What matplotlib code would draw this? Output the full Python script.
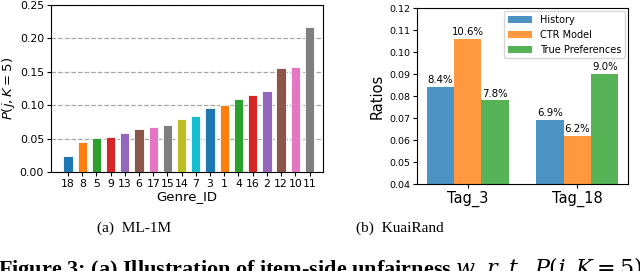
import matplotlib.pyplot as plt
import numpy as np

plt.rcParams['mathtext.fontset'] = 'dejavusans'

# left panel: ML-1M genre exposure
genre_ids = ['18', '8', '5', '9', '13', '6', '17', '15', '14', '7', '3', '1', '4', '16', '2', '12', '10', '11']
genre_p = [0.024, 0.045, 0.051, 0.053, 0.059, 0.065, 0.068, 0.071, 0.080, 0.084,
           0.096, 0.101, 0.110, 0.116, 0.121, 0.156, 0.157, 0.217]

# right panel: KuaiRand tag ratios
tags = ['Tag_3', 'Tag_18']
history = [0.084, 0.069]
ctr_model = [0.106, 0.062]
true_pref = [0.078, 0.090]
series_names = ['History', 'CTR Model', 'True Preferences']

W, H = 640, 271
fig = plt.figure(figsize=(6.4, 2.71), dpi=100)

def px_axes(x0, y0, x1, y1):
    return fig.add_axes([x0 / W, 1 - y1 / H, (x1 - x0) / W, (y1 - y0) / H])

# (a) ML-1M
ax1 = px_axes(51, 5, 323, 172)
colors = [plt.cm.tab10(i % 10) for i in range(len(genre_ids))]
x = np.arange(len(genre_ids))
ax1.bar(x, genre_p, width=0.65, color=colors, edgecolor='white', linewidth=0.6, zorder=3)
ax1.set_xticks(x)
ax1.set_xticklabels(genre_ids, fontsize=7.8)
ax1.set_xlim(-1.2, 17.95)
ax1.set_ylim(0, 0.25)
ax1.set_yticks([0, 0.05, 0.10, 0.15, 0.20, 0.25])
ax1.set_yticklabels(['0.00', '0.05', '0.10', '0.15', '0.20', '0.25'], fontsize=7.8)
ax1.tick_params(axis='both', length=3, pad=2)
ax1.yaxis.grid(True, linestyle='--', color='grey', alpha=0.7, linewidth=0.9)
ax1.set_axisbelow(True)
ax1.set_xlabel('Genre_ID', fontsize=9.5, labelpad=1)
ax1.set_ylabel('$P(j, K=5)$', fontsize=9.5, labelpad=2)

# (b) KuaiRand
ax2 = px_axes(417, 8, 628, 184)
xt = np.arange(len(tags))
w = 0.25
vals = [history, ctr_model, true_pref]
for i, (name, v) in enumerate(zip(series_names, vals)):
    bars = ax2.bar(xt + (i - 1) * w, v, width=w, color=plt.cm.tab10(i), alpha=0.8,
                   label=name)
    for b, val in zip(bars, v):
        ax2.text(b.get_x() + b.get_width() / 2, val + 0.0008, '{:.1f}%'.format(val * 100),
                 ha='center', va='bottom', fontsize=7.3)
ax2.set_ylim(0.04, 0.12)
ax2.set_yticks(np.arange(0.04, 0.121, 0.01))
ax2.set_yticklabels(['{:.2f}'.format(t) for t in np.arange(0.04, 0.121, 0.01)], fontsize=6.8)
ax2.set_xticks(xt)
ax2.set_xticklabels(tags, fontsize=10.5)
ax2.tick_params(axis='both', length=3, pad=2)
ax2.set_ylabel('Ratios', fontsize=10.5, labelpad=3)
ax2.legend(loc='upper right', fontsize=7, borderaxespad=0.3, handlelength=2.5)

# captions
fig.text(134 / W, 1 - 228 / H, '(a)  ML-1M', ha='center', va='center',
         fontsize=11, family='Liberation Serif')
fig.text(400 / W, 1 - 228 / H, '(b)  KuaiRand', ha='center', va='center',
         fontsize=11, family='Liberation Serif')
fig.text(-2 / W, 1 - 269 / H,
         'Figure 3: (a) Illustration of item-side unfairness ' + r'$\mathit{w.r.t.}$ $P(j, K=5)$',
         ha='left', va='center', fontsize=16, fontweight='bold', family='Liberation Serif',
         math_fontfamily='dejavuserif')

fig.savefig('out.png', dpi=100)
